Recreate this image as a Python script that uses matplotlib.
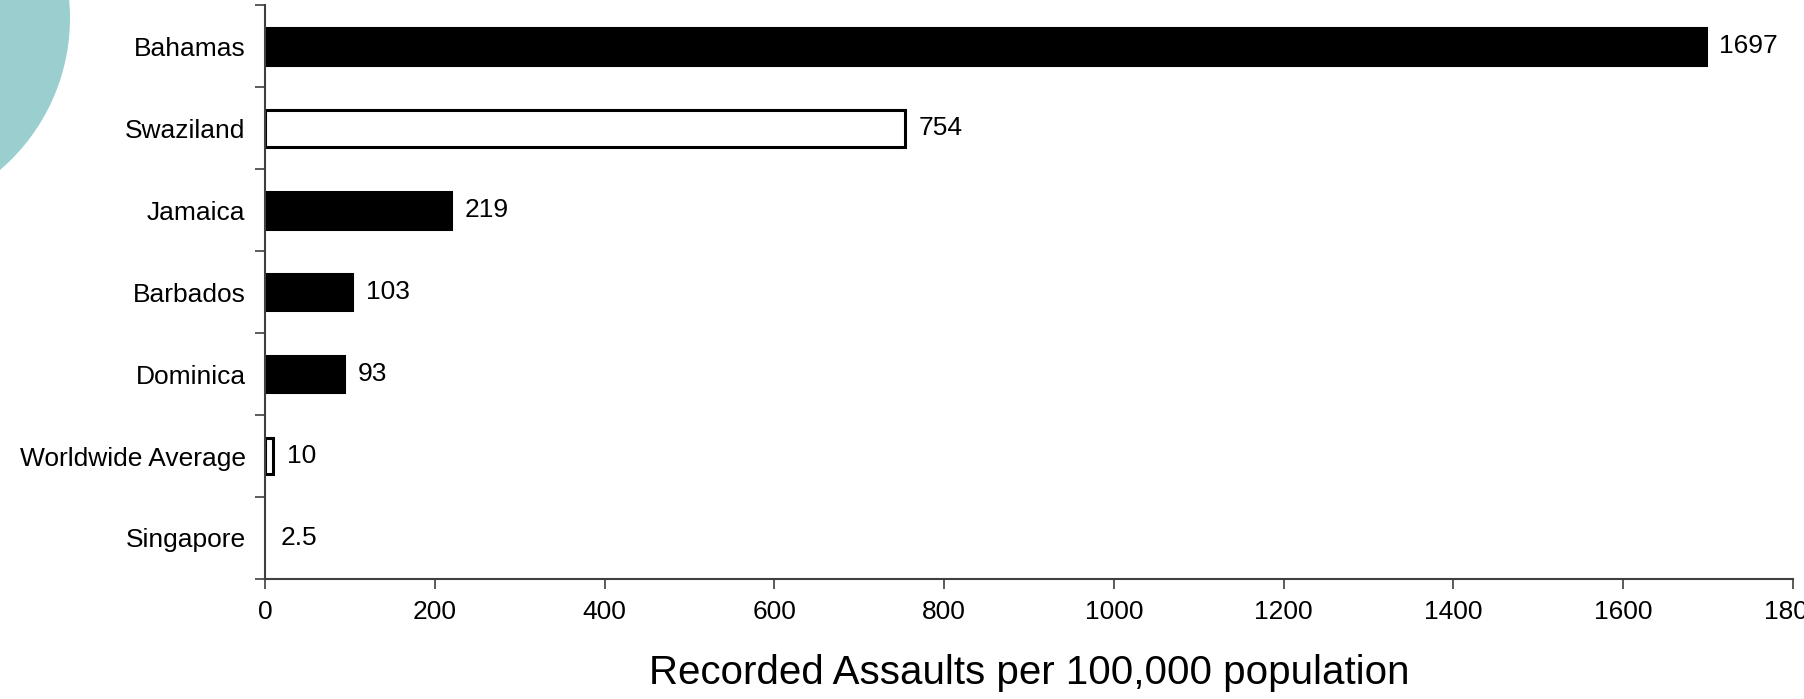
#horizontal bar chart of recorded assaults per 100,000 population

import matplotlib.pyplot as plt
from matplotlib.patches import Circle

plt.rcParams['font.family'] = ['Liberation Sans', 'DejaVu Sans']

#countries from top to bottom and their values
countries = ['Bahamas', 'Swaziland', 'Jamaica', 'Barbados', 'Dominica',
             'Worldwide Average', 'Singapore']
assaults = [1697, 754, 219, 103, 93, 10, 2.5]
value_labels = ['1697', '754', '219', '103', '93', '10', '2.5']
bar_colors = ['black', 'white', 'black', 'black', 'black', 'white', 'white']
edge_colors = ['black', 'black', 'black', 'black', 'black', 'black', 'none']
x_ticks = [0, 200, 400, 600, 800, 1000, 1200, 1400, 1600, 1800]

fig = plt.figure(figsize=(18.04, 6.99), dpi=100)

#teal decoration circle in the top left corner (pixel coords of the figure)
circ = Circle((-130, 699 - 18), 200, transform=None, facecolor='#9bcfcf',
              edgecolor='none', zorder=0)
fig.patches.append(circ)

ax = fig.add_axes([0.1469, 0.1717, 0.847, 0.821])
ax.patch.set_alpha(0)

y = list(range(len(countries)))
ax.barh(y, assaults, height=0.45, color=bar_colors, edgecolor=edge_colors,
        linewidth=2.2)

for yi, v, lab in zip(y, assaults, value_labels):
    ax.annotate(lab, (v, yi), xytext=(10, 0), textcoords='offset points',
                va='center', ha='left', fontsize=19)

ax.set_ylim(len(countries) - 0.5, -0.5)
ax.set_xlim(0, 1800)

#y ticks sit on the boundaries between categories, labels in the middle
ax.set_yticks([i - 0.5 for i in range(len(countries) + 1)])
ax.set_yticklabels([])
ax.set_yticks(y, minor=True)
ax.set_yticklabels(countries, minor=True, fontsize=19)
ax.tick_params(axis='y', which='major', length=7, width=1.2, color='#404040')
ax.tick_params(axis='y', which='minor', length=0, pad=14)

ax.set_xticks(x_ticks)
ax.set_xticklabels([str(t) for t in x_ticks], fontsize=19)
ax.tick_params(axis='x', length=7, width=1.2, color='#404040', pad=8)

for s in ['top', 'right']:
    ax.spines[s].set_visible(False)
for s in ['left', 'bottom']:
    ax.spines[s].set_color('#404040')
    ax.spines[s].set_linewidth(1.5)

ax.set_xlabel('Recorded Assaults per 100,000 population', fontsize=29,
              labelpad=22)

plt.savefig('out.png', dpi=100)
